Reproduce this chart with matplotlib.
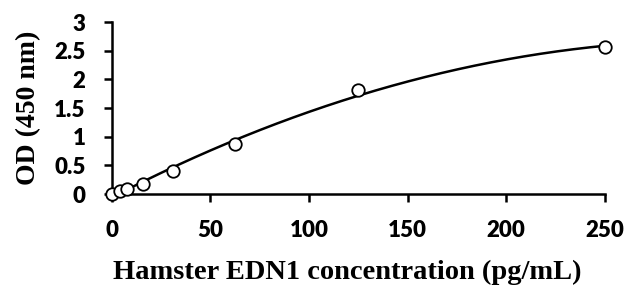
import numpy as np
import matplotlib
matplotlib.use("Agg")
import matplotlib.pyplot as plt

# standard curve data
conc = [0, 3.9, 7.8, 15.6, 31.25, 62.5, 125, 250]
od = [0.01, 0.05, 0.09, 0.17, 0.40, 0.87, 1.81, 2.57]
x_ticks = [0, 50, 100, 150, 200, 250]
y_ticks = [0, 0.5, 1, 1.5, 2, 2.5, 3]
y_tick_labels = ["0", "0.5", "1", "1.5", "2", "2.5", "3"]

# 2nd order polynomial trendline (like Excel)
coef = np.polyfit(conc, od, 2)
xs = np.linspace(0, 250, 300)
ys = np.polyval(coef, xs)

fig = plt.figure(figsize=(6.32, 2.91), dpi=100)
ax = fig.add_axes([0.177, 0.333, 0.78, 0.591])

ax.plot(xs, ys, color="black", lw=1.8, zorder=2)
ax.plot(conc, od, "o", mfc="white", mec="black", ms=9, mew=1.3, zorder=3, clip_on=False)

ax.set_xlim(0, 250)
ax.set_ylim(0, 3)
ax.set_xticks(x_ticks)
ax.set_yticks(y_ticks)
ax.set_yticklabels(y_tick_labels)

for s in ["top", "right"]:
    ax.spines[s].set_visible(False)
for s in ["left", "bottom"]:
    ax.spines[s].set_linewidth(1.8)
ax.tick_params(width=1.8, length=6, direction="out")
ax.tick_params(axis="x", pad=13)
ax.tick_params(axis="y", pad=13)
for lab in ax.get_xticklabels() + ax.get_yticklabels():
    lab.set_fontfamily("Lato")
    lab.set_fontweight("heavy")
    lab.set_fontsize(16)

ax.set_xlabel("Hamster EDN1 concentration (pg/mL)", fontfamily="Liberation Serif",
              fontweight="bold", fontsize=20.5, labelpad=13)
ax.xaxis.label.set_x(0.477)
ax.set_ylabel("OD (450 nm)", fontfamily="Liberation Serif",
              fontweight="bold", fontsize=20, labelpad=9)

plt.savefig("out.png", dpi=100)
